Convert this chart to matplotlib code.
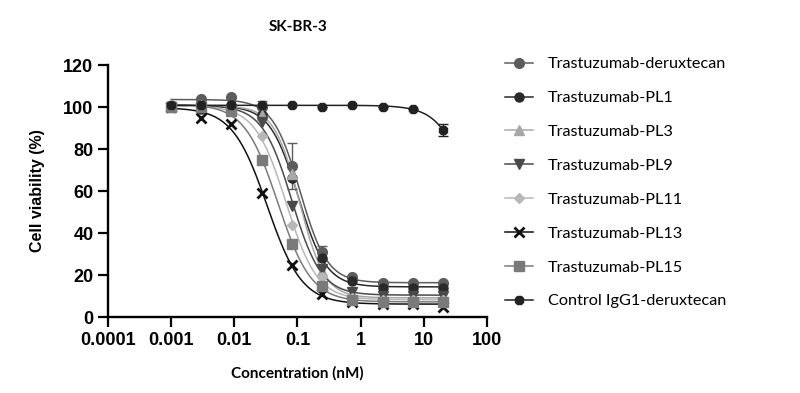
import numpy as np
import matplotlib
matplotlib.use("Agg")
import matplotlib.pyplot as plt
from matplotlib.ticker import FixedLocator, FixedFormatter, NullLocator

# ---------------- data ----------------
conc = [0.001, 0.003, 0.009, 0.027, 0.082, 0.247, 0.741, 2.22, 6.67, 20]

series_names = ["Trastuzumab-deruxtecan", "Trastuzumab-PL1", "Trastuzumab-PL3",
                "Trastuzumab-PL9", "Trastuzumab-PL11", "Trastuzumab-PL13",
                "Trastuzumab-PL15", "Control IgG1-deruxtecan"]

deruxtecan = [100, 104, 105, 100, 72, 31, 19, 16, 16, 16]
pl1 = [100, 99, 101, 96, 66, 28, 17, 14, 14, 14]
pl3 = [100, 101, 100, 96, 68, 22, 11, 9, 9, 9]
pl9 = [100, 100, 99, 93, 53, 23, 12, 10, 10, 10]
pl11 = [100, 100, 98, 86, 44, 19, 9, 8, 8, 8]
pl13 = [100, 95, 92, 59, 25, 11, 7, 6, 6, 5]
pl15 = [100, 100, 98, 75, 35, 15, 8, 7, 7, 7]
control = [101, 101, 101, 101, 101, 100, 101, 100, 99, 89]

deruxtecan_err = [0, 0, 0, 3, 11, 3, 0, 0, 0, 0]
control_err = [0, 0, 0, 0, 0, 0, 0, 0, 0, 3]

x_ticks = [0.0001, 0.001, 0.01, 0.1, 1, 10, 100]
x_tick_labels = ["0.0001", "0.001", "0.01", "0.1", "1", "10", "100"]
y_ticks = [0, 20, 40, 60, 80, 100, 120]

# ---------------- styles ----------------
values = [deruxtecan, pl1, pl3, pl9, pl11, pl13, pl15, control]
errors = [deruxtecan_err, None, None, None, None, None, None, control_err]
colors = ["#5c5c5c", "#2a2a2a", "#a8a8a8", "#4a4a4a", "#b8b8b8", "#111111", "#7a7a7a", "#222222"]
markers = ["o", "o", "^", "v", "D", "x", "s", "8"]
msizes = [7, 6.5, 6.5, 7, 5, 7, 7.5, 6]


def fit4pl(x, y):
    """Least-squares 4-parameter logistic fit (grid over EC50/Hill, linear in top/bottom)."""
    lx = np.log10(np.asarray(x, float))
    y = np.asarray(y, float)
    le = np.arange(-3.0, 2.0, 0.01)
    hh = np.arange(0.5, 4.01, 0.02)
    LE, H = np.meshgrid(le, hh, indexing="ij")
    f = 1.0 / (1.0 + 10 ** ((lx[None, None, :] - LE[..., None]) * H[..., None]))
    A, B = f, 1 - f
    saa = (A * A).sum(-1); sbb = (B * B).sum(-1); sab = (A * B).sum(-1)
    say = (A * y).sum(-1); sby = (B * y).sum(-1)
    det = saa * sbb - sab ** 2
    det = np.where(np.abs(det) < 1e-12, 1e-12, det)
    top = (say * sbb - sby * sab) / det
    bot = (sby * saa - say * sab) / det
    pred = top[..., None] * A + bot[..., None] * B
    res = ((pred - y) ** 2).sum(-1)
    i, j = np.unravel_index(np.argmin(res), res.shape)
    return top[i, j], bot[i, j], LE[i, j], H[i, j]


plt.rcParams["font.family"] = ["Liberation Sans", "DejaVu Sans"]

fig = plt.figure(figsize=(8, 3.93), dpi=100)
ax = fig.add_axes([108 / 800, 1 - 317 / 393, (487 - 108) / 800, (317 - 65) / 393])

xs = np.logspace(np.log10(conc[0]), np.log10(conc[-1]), 300)
handles = []
for name, vals, err, c, m, ms in zip(series_names, values, errors, colors, markers, msizes):
    top, bot, le, h = fit4pl(conc, vals)
    ycurve = bot + (top - bot) / (1 + 10 ** ((np.log10(xs) - le) * h))
    ax.plot(xs, ycurve, color=c, lw=1.1, zorder=2)
    if err is not None:
        ax.errorbar(conc, vals, yerr=err, fmt="none", ecolor=c, elinewidth=1.0,
                    capsize=3.5, capthick=1.0, zorder=3)
    if m == "x":
        ax.plot(conc, vals, linestyle="none", marker=m, ms=ms, mew=2.0, color=c, zorder=4)
        hd, = ax.plot([], [], color=c, lw=1.1, marker=m, ms=ms, mew=2.0)
    else:
        ax.plot(conc, vals, linestyle="none", marker=m, ms=ms, mfc=c, mec=c, color=c, zorder=4)
        hd, = ax.plot([], [], color=c, lw=1.1, marker=m, ms=ms, mfc=c, mec=c)
    handles.append(hd)

ax.set_xscale("log")
ax.set_xlim(0.0001, 100)
ax.set_ylim(0, 120)
ax.xaxis.set_major_locator(FixedLocator(x_ticks))
ax.xaxis.set_major_formatter(FixedFormatter(x_tick_labels))
ax.xaxis.set_minor_locator(NullLocator())
ax.set_yticks(y_ticks)
for s in ["top", "right"]:
    ax.spines[s].set_visible(False)
for s in ["left", "bottom"]:
    ax.spines[s].set_linewidth(1.7)
ax.tick_params(axis="both", which="major", length=7.5, width=1.6, labelsize=13, pad=3)
for lab in ax.get_xticklabels() + ax.get_yticklabels():
    lab.set_fontweight("bold")

ax.set_ylabel("Cell viability (%)", fontsize=11.5, fontweight="bold")
ax.yaxis.set_label_coords(-0.165, 0.5)
ax.set_xlabel("Concentration (nM)", fontsize=11, fontweight="bold", family=["Lato", "DejaVu Sans"])
ax.xaxis.set_label_coords(0.5, -0.195)

fig.text(298 / 800, 1 - 27 / 393, "SK-BR-3", ha="center", va="center",
         fontsize=11, fontweight="bold", family=["Lato", "DejaVu Sans"])

fig.legend(handles, series_names, loc="upper left", bbox_to_anchor=(505 / 800, 1 - 57 / 393),
           frameon=False, borderpad=0, borderaxespad=0, handlelength=1.7, handletextpad=0.95,
           labelspacing=1.2, prop={"family": ["Lato", "DejaVu Sans"], "size": 11.7})

fig.savefig("out.png", dpi=100)
